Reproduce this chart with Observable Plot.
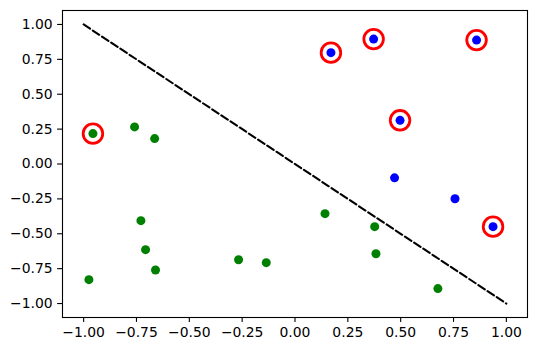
<!DOCTYPE html>
<html>
<head>
<meta charset="utf-8">
<script src="https://cdn.jsdelivr.net/npm/d3@7"></script>
<script src="https://cdn.jsdelivr.net/npm/@observablehq/plot@0.6"></script>
<style>
  html, body { margin: 0; padding: 0; background: #fff; }
  #chart svg { display: block; }
</style>
</head>
<body>
<div id="chart"></div>
<script>
// Class A (green) points
const greenX = [-0.956, -0.759, -0.664, -0.729, -0.707, -0.660, -0.975, -0.267, -0.136, 0.142, 0.377, 0.383, 0.676];
const greenY = [0.218, 0.266, 0.182, -0.406, -0.614, -0.760, -0.829, -0.686, -0.707, -0.356, -0.449, -0.643, -0.893];
// Class B (blue) points
const blueX = [0.170, 0.372, 0.859, 0.497, 0.471, 0.757, 0.937];
const blueY = [0.798, 0.895, 0.888, 0.313, -0.099, -0.249, -0.449];
// Highlighted (circled) points
const circX = [-0.956, 0.170, 0.372, 0.859, 0.497, 0.937];
const circY = [0.218, 0.798, 0.895, 0.888, 0.313, -0.449];
// Dashed boundary line
const lineX = [-1, 1];
const lineY = [1, -1];
// Ticks
const xTicks = [-1, -0.75, -0.5, -0.25, 0, 0.25, 0.5, 0.75, 1];
const yTicks = [-1, -0.75, -0.5, -0.25, 0, 0.25, 0.5, 0.75, 1];

const green = greenX.map((x, i) => ({x, y: greenY[i]}));
const blue = blueX.map((x, i) => ({x, y: blueY[i]}));
const circ = circX.map((x, i) => ({x, y: circY[i]}));
const line = lineX.map((x, i) => ({x, y: lineY[i]}));

const fmt = d3.format(".2f");

const chart = Plot.plot({
  width: 537,
  height: 351,
  marginLeft: 62,
  marginRight: 10,
  marginTop: 10,
  marginBottom: 34,
  style: {fontFamily: "DejaVu Sans", fontSize: "13.9px", color: "black", background: "white"},
  x: {domain: [-1.1, 1.1], label: null},
  y: {domain: [-1.1, 1.1], label: null},
  marks: [
    Plot.line(line, {x: "x", y: "y", stroke: "black", strokeWidth: 2.08, strokeDasharray: "7.7,3.3"}),
    Plot.dot(green, {x: "x", y: "y", r: 4.5, fill: "#008000", stroke: "none"}),
    Plot.dot(blue, {x: "x", y: "y", r: 4.5, fill: "#0000ff", stroke: "none"}),
    Plot.dot(circ, {x: "x", y: "y", r: 9.8, fill: "none", stroke: "#ff0000", strokeWidth: 2.8}),
    Plot.frame({stroke: "black", strokeWidth: 1.1}),
    Plot.axisX({ticks: xTicks, tickFormat: fmt, tickSize: 4.9, tickPadding: 4.9, strokeWidth: 1.1, label: null}),
    Plot.axisY({ticks: yTicks, tickFormat: fmt, tickSize: 4.9, tickPadding: 4.9, strokeWidth: 1.1, label: null})
  ]
});
document.getElementById("chart").appendChild(chart);
</script>
</body>
</html>
